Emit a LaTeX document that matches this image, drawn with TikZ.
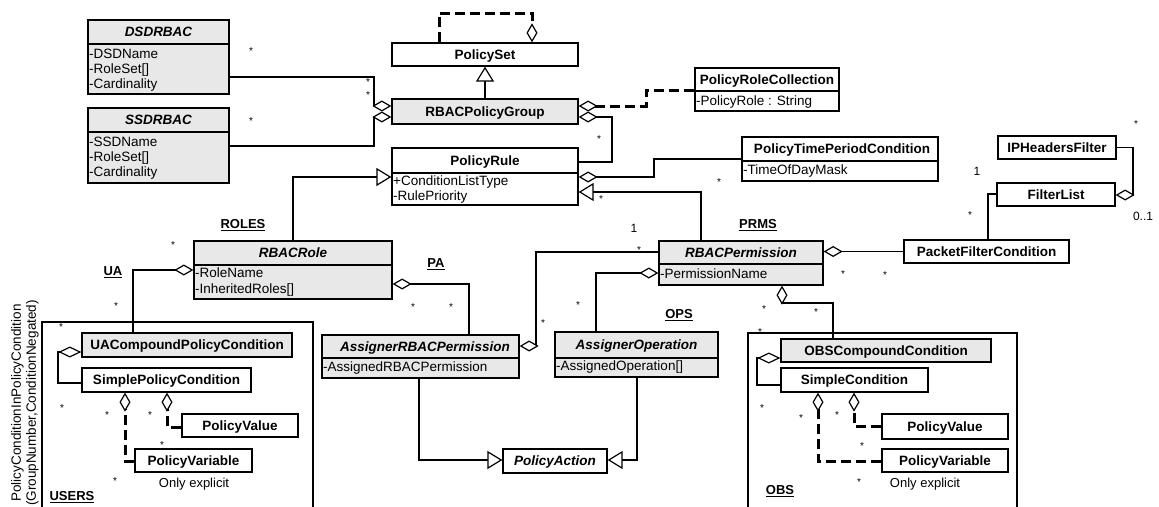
\documentclass[tikz,border=0pt]{standalone}
\usepackage{fontspec}
\setmainfont{Liberation Sans}
\usetikzlibrary{arrows.meta}
\definecolor{boxgray}{RGB}{232,232,232}
\begin{document}
\begin{tikzpicture}[x=1pt,y=-1pt,
  umlbox/.style={draw, line width=1.3pt, inner sep=0pt, text height=9.7pt, text depth=0pt,
     font=\fontsize{13.5}{15}\selectfont\bfseries},
  frame/.style={draw, line width=1.3pt, inner sep=0pt},
  title/.style={inner sep=0pt, text height=9.7pt, text depth=0pt, font=\fontsize{13.5}{15}\selectfont\bfseries},
  ititle/.style={inner sep=0pt, text height=9.7pt, text depth=0pt, font=\fontsize{13.5}{15}\selectfont\bfseries\itshape},
  attr/.style={anchor=west, inner sep=0pt, text height=9.7pt, text depth=0pt, font=\fontsize{13.5}{15}\selectfont},
  divider/.style={line width=1.3pt},
  mult/.style={anchor=base, inner sep=0pt, yshift=-5.5pt, font=\fontsize{10}{10}\selectfont},
  num/.style={inner sep=0pt, text height=8.6pt, text depth=0pt, font=\fontsize{12}{12}\selectfont},
  rolelabel/.style={inner sep=0pt, text height=9.4pt, text depth=0pt, font=\fontsize{13}{13}\selectfont\bfseries},
  note/.style={inner sep=0pt, text height=9.4pt, text depth=0pt, font=\fontsize{13}{13}\selectfont},
  conn/.style={line width=1.2pt},
  agg/.style={conn, -{Diamond[fill=white, length=19pt, width=11pt]}},
  aggbig/.style={conn, -{Diamond[fill=white, length=23pt, width=11pt]}},
  sagg/.style={conn, {Diamond[fill=white, length=19pt, width=11pt]}-},
  gen/.style={conn, -{Triangle[fill=white, length=15pt, width=18pt]}},
  depagg/.style={line width=3pt, dash pattern=on 10pt off 5pt,
     -{Diamond[fill=white, length=19pt, width=11pt, line width'=1.2pt]}},
  sdepagg/.style={line width=3pt, dash pattern=on 10pt off 5pt,
     {Diamond[fill=white, length=19pt, width=11pt, line width'=1.2pt]}-}
]
\useasboundingbox (0,0) rectangle (1159,506);

% ---------- frames ----------
\node[frame, minimum width=271pt, minimum height=198pt] (users) at (177.5,421) {};
\node[frame, minimum width=269pt, minimum height=187pt] (obs) at (882.5,426.5) {};

% ---------- DSDRBAC ----------
\node[umlbox, fill=boxgray, minimum width=141pt, minimum height=74pt] (dsd) at (158.5,57) {};
\node[ititle] (dsdT) at (158.5,32) {DSDRBAC};
\draw[divider] (dsd.west |- 0,44) -- (dsd.east |- 0,44);
\node[attr] (dsdA) at (89,54) {-DSDName};
\node[attr] (dsdB) at (89,69) {-RoleSet[]};
\node[attr] (dsdC) at (89,84) {-Cardinality};

% ---------- SSDRBAC ----------
\node[umlbox, fill=boxgray, minimum width=141pt, minimum height=75pt] (ssd) at (158.5,145.5) {};
\node[ititle] (ssdT) at (158.5,120) {SSDRBAC};
\draw[divider] (ssd.west |- 0,132) -- (ssd.east |- 0,132);
\node[attr] (ssdA) at (89,142) {-SSDName};
\node[attr] (ssdB) at (89,157) {-RoleSet[]};
\node[attr] (ssdC) at (89,172) {-Cardinality};

% ---------- PolicySet / RBACPolicyGroup ----------
\node[umlbox, fill=white, minimum width=186pt, minimum height=23pt] (pset) at (485,54.5) {PolicySet};
\node[umlbox, fill=boxgray, minimum width=186pt, minimum height=25pt] (rbacpg) at (485,111.5) {RBACPolicyGroup};

% ---------- PolicyRoleCollection ----------
\node[umlbox, fill=white, minimum width=144pt, minimum height=43pt] (prc) at (767,89.5) {};
\node[title] (prcT) at (767,79.5) {PolicyRoleCollection};
\draw[divider] (prc.west |- 0,91) -- (prc.east |- 0,91);
\node[attr] (prcA) at (696,101) {-PolicyRole : String};

% ---------- PolicyRule ----------
\node[umlbox, fill=white, minimum width=186pt, minimum height=57pt] (prule) at (485,176.5) {};
\node[title] (pruleT) at (485,160.5) {PolicyRule};
\draw[divider] (prule.west |- 0,173) -- (prule.east |- 0,173);
\node[attr] (pruleA) at (393,181) {+ConditionListType};
\node[attr] (pruleB) at (393,196) {-RulePriority};

% ---------- PolicyTimePeriodCondition ----------
\node[umlbox, fill=white, minimum width=196pt, minimum height=44pt] (ptpc) at (840,159) {};
\node[title] (ptpcT) at (842,149) {PolicyTimePeriodCondition};
\draw[divider] (ptpc.west |- 0,161) -- (ptpc.east |- 0,161);
\node[attr] (ptpcA) at (743,170) {-TimeOfDayMask};

% ---------- filters ----------
\node[umlbox, fill=white, minimum width=118pt, minimum height=23pt] (iph) at (1057,147.5) {IPHeadersFilter};
\node[umlbox, fill=white, minimum width=118pt, minimum height=23pt] (flist) at (1056,194.5) {FilterList};
\node[umlbox, fill=white, minimum width=165pt, minimum height=23pt] (pfc) at (986.5,251.5) {PacketFilterCondition};

% ---------- RBACRole ----------
\node[umlbox, fill=boxgray, minimum width=198pt, minimum height=58pt] (rrole) at (293,270) {};
\node[ititle] (rroleT) at (293,253) {RBACRole};
\draw[divider] (rrole.west |- 0,265) -- (rrole.east |- 0,265);
\node[attr] (rroleA) at (195,273) {-RoleName};
\node[attr] (rroleB) at (195,289) {-InheritedRoles[]};

% ---------- RBACPermission ----------
\node[umlbox, fill=boxgray, minimum width=164pt, minimum height=44pt] (rperm) at (741,263) {};
\node[ititle] (rpermT) at (741,252.5) {RBACPermission};
\draw[divider] (rperm.west |- 0,264) -- (rperm.east |- 0,264);
\node[attr] (rpermA) at (660,274) {-PermissionName};

% ---------- AssignerRBACPermission ----------
\node[umlbox, fill=boxgray, minimum width=197pt, minimum height=43pt] (arp) at (420.5,356.5) {};
\node[ititle] (arpT) at (425,346.5) {AssignerRBACPermission};
\draw[divider] (arp.west |- 0,358) -- (arp.east |- 0,358);
\node[attr] (arpA) at (323,367) {-AssignedRBACPermission};

% ---------- AssignerOperation ----------
\node[umlbox, fill=boxgray, minimum width=163pt, minimum height=45pt] (aop) at (636.5,354.5) {};
\node[ititle] (aopT) at (636.5,345) {AssignerOperation};
\draw[divider] (aop.west |- 0,358) -- (aop.east |- 0,358);
\node[attr] (aopA) at (556,366) {-AssignedOperation[]};

% ---------- PolicyAction ----------
\node[umlbox, fill=white, minimum width=104pt, minimum height=24pt, font=\fontsize{13.5}{15}\selectfont\bfseries\itshape] (paction) at (555,461) {PolicyAction};

% ---------- USERS contents ----------
\node[umlbox, fill=boxgray, minimum width=210pt, minimum height=24pt] (uacpc) at (187,345) {UACompoundPolicyCondition};
\node[umlbox, fill=white, minimum width=169pt, minimum height=24pt] (spc) at (166.5,380) {SimplePolicyCondition};
\node[umlbox, fill=white, minimum width=116pt, minimum height=23pt] (upv) at (240,425.5) {PolicyValue};
\node[umlbox, fill=white, minimum width=117pt, minimum height=23pt] (upvar) at (193.5,460.5) {PolicyVariable};

% ---------- OBS contents ----------
\node[umlbox, fill=boxgray, minimum width=210pt, minimum height=23pt] (obscc) at (886,350.5) {OBSCompoundCondition};
\node[umlbox, fill=white, minimum width=147pt, minimum height=24pt] (sc) at (854.5,380) {SimpleCondition};
\node[umlbox, fill=white, minimum width=126pt, minimum height=25pt] (opv) at (945,426.5) {PolicyValue};
\node[umlbox, fill=white, minimum width=126pt, minimum height=23pt] (opvar) at (945,460.5) {PolicyVariable};

% ---------- connectors ----------
\draw[agg] (dsd.east |- 0,77) -- (374,77) -- (374,106) -- (rbacpg.west |- 0,106);
\draw[agg] (ssd.east |- 0,146) -- (374,146) -- (374,117) -- (rbacpg.west |- 0,117);
\draw[gen] (rbacpg.north) -- (pset.south);
\draw[depagg] (pset.north -| 439,0) -- (439,13) -- (532,13) -- (pset.north -| 532,0);
\draw[sdepagg] (rbacpg.east |- 0,106) -- (646,106) -- (646,90) -- (prc.west |- 0,90);
\draw[sagg] (rbacpg.east |- 0,117) -- (612,117) -- (612,162) -- (prule.east |- 0,162);
\draw[sagg] (prule.east |- 0,177) -- (654,177) -- (654,159) -- (ptpc.west);
\draw[gen] (rperm.north -| 701,0) -- (701,192) -- (prule.east |- 0,192);
\draw[gen] (rrole.north -| 293,0) -- (293,177) -- (prule.west |- 0,177);
\draw[agg] (pfc.west) -- (rperm.east |- pfc.west);
\draw[conn] (pfc.north -| 988,0) -- (988,194) -- (flist.west |- 0,194);
\draw[agg] (iph.east) -- (1133,147.5) -- (1133,195) -- (flist.east |- 0,195);
\draw[agg] (uacpc.north -| 133,0) -- (133,270) -- (rrole.west |- 0,270);
\draw[agg] (arp.north -| 469,0) -- (469,284) -- (rrole.east |- 0,284);
\draw[agg] (rperm.west |- 0,252) -- (536,252) -- (536,346) -- (arp.east |- 0,346);
\draw[agg] (aop.north -| 596,0) -- (596,273) -- (rperm.west |- 0,273);
\draw[agg] (obscc.north -| 833,0) -- (833,303) -- (782,303) -- (rperm.south -| 782,0);
\draw[gen] (arp.south -| 419,0) -- (419,460) -- (paction.west |- 0,460);
\draw[gen] (aop.south -| 637,0) -- (637,460) -- (paction.east |- 0,460);
\draw[aggbig] (spc.west |- 0,383) -- (58,383) -- (58,352) -- (uacpc.west |- 0,352);
\draw[depagg] (upv.west |- 0,427) -- (167,427) -- (spc.south -| 167,0);
\draw[depagg] (upvar.west |- 0,461) -- (125,461) -- (spc.south -| 125,0);
\draw[aggbig] (sc.west |- 0,385) -- (757,385) -- (757,358) -- (obscc.west |- 0,358);
\draw[depagg] (opv.west |- 0,426) -- (854,426) -- (sc.south -| 854,0);
\draw[depagg] (opvar.west |- 0,461) -- (818,461) -- (sc.south -| 818,0);

% ---------- multiplicities ----------
\foreach \p [count=\i] in {{251,49},{368,80},{368,93},{251,119},{599,137},{601,197},{719,180},
  {1136,122},{970,213},{843,272},{885,273},{639,248},{173,243},{116,304},{413,305},{451,305},
  {543,321},{578,303},{764,307},{816,310},{760,330},{762,406},{801,416},{837,413},{862,444},
  {859,480},{61,325},{62,406},{107,413},{150,413},{162,443},{115,479}}
  \node[mult] (star\i) at (\p) {*};
\node[num] (one1) at (634,228) {1};
\node[num] (one2) at (977,171) {1};
\node[num] (zeroone) at (1143,216) {0..1};

% ---------- role labels ----------
\node[rolelabel] (lroles) at (243,224) {\underline{ROLES}};
\node[rolelabel] (lua) at (113,271) {\underline{UA}};
\node[rolelabel] (lpa) at (436,263) {\underline{PA}};
\node[rolelabel] (lprms) at (758,224) {\underline{PRMS}};
\node[rolelabel] (lops) at (679,314) {\underline{OPS}};
\node[rolelabel] (lusers) at (72,496) {\underline{USERS}};
\node[rolelabel] (lobs) at (780,490) {\underline{OBS}};

\node[note] (expl1) at (194,483) {Only explicit};
\node[note] (expl2) at (925,483) {Only explicit};

\node[rotate=90, align=center, inner sep=0pt, font=\fontsize{13.5}{15}\selectfont] (pcipc) at (25,403)
  {PolicyConditionInPolicyCondition\\(GroupNumber,ConditionNegated)};
\end{tikzpicture}
\end{document}
